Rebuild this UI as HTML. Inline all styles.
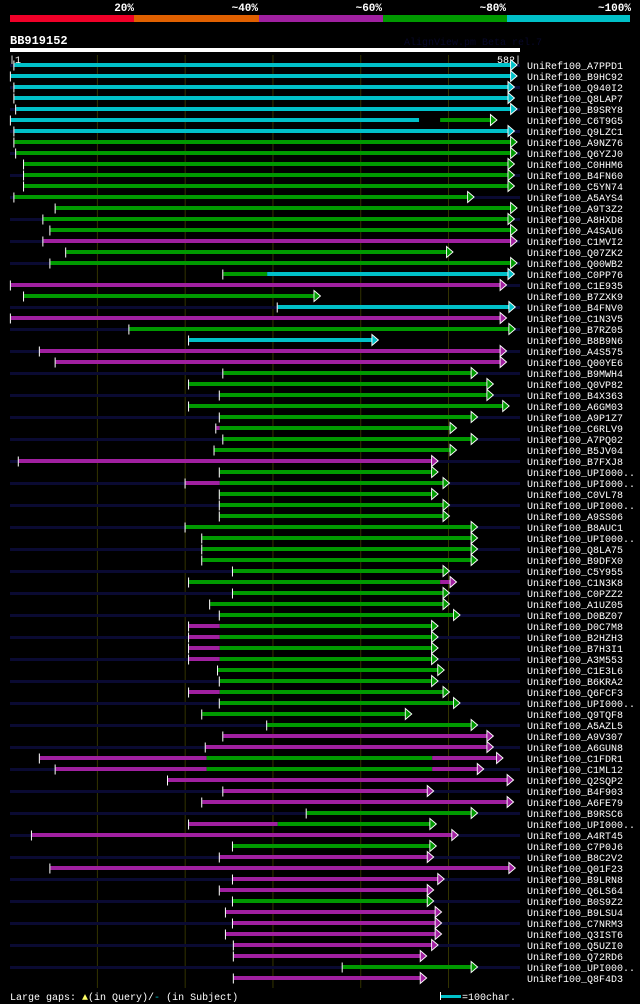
<!DOCTYPE html>
<html><head><meta charset="utf-8">
<style>
html,body{margin:0;padding:0;background:#000;}
body{width:640px;height:1004px;overflow:hidden;position:relative;font-family:"Liberation Mono","DejaVu Sans Mono",monospace;}
svg{position:absolute;left:0;top:0;}
</style></head>
<body>
<svg id="chart" width="640" height="1004" viewBox="0 0 640 1004" xmlns="http://www.w3.org/2000/svg">
  <g>
    <rect x="10" y="15" width="124" height="7" fill="#f00028"/>
    <rect x="134" y="15" width="125" height="7" fill="#e06000"/>
    <rect x="259" y="15" width="124" height="7" fill="#a020a0"/>
    <rect x="383" y="15" width="124" height="7" fill="#009900"/>
    <rect x="507" y="15" width="123" height="7" fill="#00c0c8"/>
    <g font-size="11" font-weight="bold" fill="#fff" text-anchor="end" font-family="Liberation Mono, monospace">
      <text x="134" y="11">20%</text>
      <text x="258" y="11">~40%</text>
      <text x="382" y="11">~60%</text>
      <text x="506" y="11">~80%</text>
      <text x="631" y="11">~100%</text>
    </g>
  </g>
  <text x="10" y="44" font-size="12" font-weight="bold" fill="#fff" font-family="Liberation Mono, monospace">BB919152</text>
  <text x="404" y="45" font-size="10" fill="#08082a" font-family="Liberation Mono, monospace">AlignView.pm Beta rel.7</text>
  <rect x="10" y="48" width="510" height="4" fill="#fff"/>
  <text x="9" y="63" font-size="10" fill="#fff" font-family="Liberation Mono, monospace">|1</text>
  <text x="521" y="63" font-size="10" fill="#fff" text-anchor="end" font-family="Liberation Mono, monospace">582|</text>
  <g id="grid"></g>
  <g id="rows"></g>
  <g font-family="Liberation Mono, monospace" font-size="10" fill="#fff">
    <text x="10" y="1000">Large gaps: <tspan fill="#ffff66">▲</tspan>(in Query)/<tspan fill="#00c0c8">-</tspan> (in Subject)</text>
    <rect x="441" y="995" width="20" height="3" fill="#00c0c8"/>
    <rect x="440" y="992" width="1" height="8" fill="#fff"/>
    <text x="462" y="1000">=100char.</text>
  </g>
</svg>
<script>
const queryLength = 582;
const gridTicks = [100, 200, 300, 400, 500];
const hitNames = ["A7PPD1","B9HC92","Q940I2","Q8LAP7","B9SRY8","C6T9G5","Q9LZC1","A9NZ76","Q6YZJ0","C0HHM6",
"B4FN60","C5YN74","A5AYS4","A9T3Z2","A8HXD8","A4SAU6","C1MVI2","Q07ZK2","Q00WB2","C0PP76",
"C1E935","B7ZXK9","B4FNV0","C1N3V5","B7RZ05","B8B9N6","A4S575","Q00YE6","B9MWH4","Q0VP82",
"B4X363","A6GM03","A9P1Z7","C6RLV9","A7PQ02","B5JV04","B7FXJ8","UPI000..","UPI000..","C0VL78",
"UPI000..","A9SS06","B8AUC1","UPI000..","Q8LA75","B9DFX0","C5Y955","C1N3K8","C0PZZ2","A1UZ05",
"D0BZ07","D0C7M8","B2HZH3","B7H3I1","A3M553","C1E3L6","B6KRA2","Q6FCF3","UPI000..","Q9TQF8",
"A5AZL5","A9V307","A6GUN8","C1FDR1","C1ML12","Q2SQP2","B4F903","A6FE79","B9RSC6","UPI000..",
"A4RT45","C7P0J6","B8C2V2","Q01F23","B9LRN8","Q6LS64","B0S9Z2","B9LSU4","C7NRM3","Q3IST6",
"Q5UZI0","Q72RD6","UPI000..","Q8F4D3"];
// segments per hit: "start-end:colorcode" (residues), colorcode c=~100%, g=~80%, m=~60%
const hitSegments = [
"6-577:c","2-577:c","6-574:c","6-574:c","8-577:c","2-467:c|491-554:g","6-574:c","6-577:g","8-577:g","17-574:g",
"17-574:g","17-574:g","6-528:g","53-577:g","39-574:g","47-577:g","39-577:m","65-504:g","47-577:g","244-294:g|294-574:c",
"2-565:m","17-353:g","306-575:c","2-565:m","137-575:g","205-419:c","35-565:m","53-565:m","244-532:g","205-550:g",
"240-550:g","205-568:g","240-532:g","236-240:m|240-508:g","244-532:g","234-508:g","11-487:m","240-487:g","201-240:m|240-500:g","240-487:g",
"240-500:g","240-500:g","201-532:g","220-532:g","220-532:g","220-532:g","255-500:g","205-491:g|491-508:m","255-500:g","229-500:g",
"240-512:g","205-240:m|240-487:g","205-240:m|240-487:g","205-240:m|240-487:g","205-240:m|240-487:g","238-494:g","240-487:g","205-240:m|240-500:g","240-512:g","220-457:g",
"294-532:g","244-550:m","224-550:m","35-225:m|225-482:g|482-561:m","53-225:m|225-482:g|482-539:m","181-573:m","244-482:m","220-573:m","339-532:g","205-306:m|306-485:g",
"26-510:m","255-485:g","240-482:m","47-575:m","255-494:m","240-482:m","255-482:g","247-491:m","255-491:m","247-491:m",
"256-487:m","256-474:m","380-532:g","256-474:m"];
const colorMap = {c:"#00c0c8", g:"#009900", m:"#a020a0"};

const X0 = 10, X1 = 520, ROW0 = 65, ROWH = 11;
function xScale(r){ return X0 + (r - 1) * (X1 - X0) / (queryLength - 1); }
function yRow(i){ return ROW0 + i * ROWH; }
const NS = "http://www.w3.org/2000/svg";
function mk(tag, attrs, parent){ const e = document.createElementNS(NS, tag); for (const k in attrs) e.setAttribute(k, attrs[k]); parent.appendChild(e); return e; }

const grid = document.getElementById('grid');
gridTicks.forEach(t => {
  const l = mk('line', {x1: xScale(t)+0.5, x2: xScale(t)+0.5, y1: 55, y2: 988, stroke: '#333300', 'stroke-width': 1}, grid);
  
  
});

const rows = document.getElementById('rows');
hitNames.forEach((name, i) => {
  const y = yRow(i);
  const g = mk('g', {}, rows);
  
  
  if (i % 2 === 0) {
    const bg = mk('rect', {x: X0, y: y - 1, width: X1 - X0, height: 3, fill: '#0a0a32'}, g);
    
    
  }
  const segs = hitSegments[i].split('|').map(s => { const [rng, c] = s.split(':'); const [a, b] = rng.split('-').map(Number); return {a, b, c}; });
  segs.forEach((s, k) => {
    const xa = xScale(s.a), xb = xScale(s.b);
    const last = k === segs.length - 1;
    const bar = mk('rect', {x: xa, y: y - 2, width: Math.max(1, xb - xa - (last ? 4 : 0)), height: 4, fill: colorMap[s.c]}, g);
    
    
    if (last) {
      const tri = mk('polygon', {points: `${xb-5},${y-5.5} ${xb+1.5},${y} ${xb-5},${y+5.5}`, fill: colorMap[s.c], stroke: '#fff', 'stroke-width': 0.9}, g);
      
      
    }
  });
  const tick = mk('rect', {x: xScale(segs[0].a) - 1, y: y - 4.5, width: 1, height: 10, fill: '#fff'}, g);
  
  
  const lbl = mk('text', {x: 527, y: y + 4, 'font-size': 10, fill: '#fff', 'font-family': 'Liberation Mono, monospace'}, g);
  lbl.textContent = 'UniRef100_' + name;
  
  
});
</script>
</body></html>
